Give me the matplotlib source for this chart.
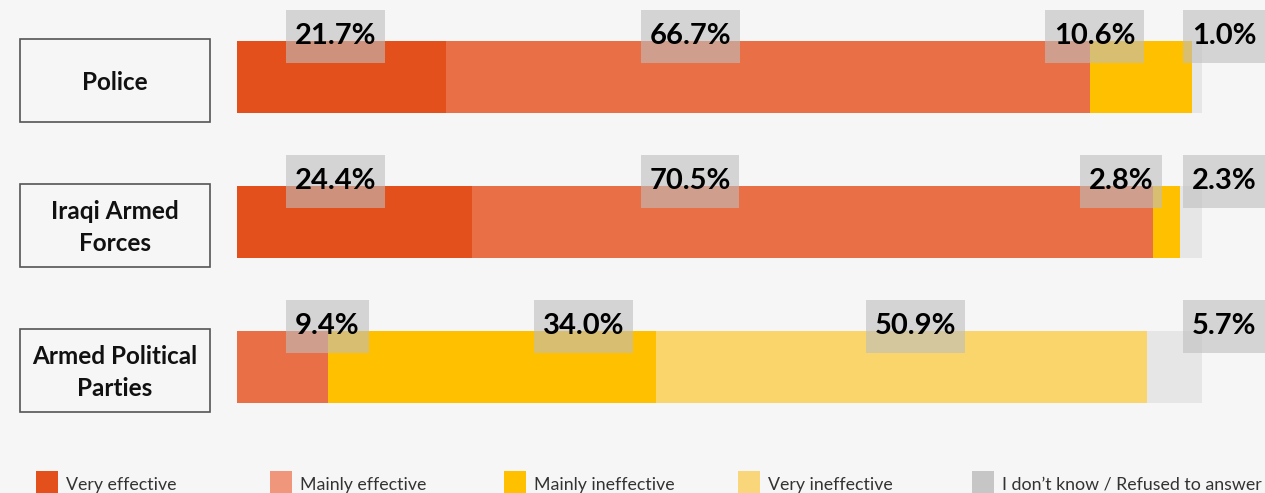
import matplotlib.pyplot as plt
from matplotlib.patches import Rectangle

plt.rcParams['font.family'] = ['Lato', 'DejaVu Sans']

# Data
groups = ['Police', 'Iraqi Armed\nForces', 'Armed Political\nParties']
answers = ['Very effective', 'Mainly effective', 'Mainly ineffective',
           'Very ineffective', "I don\u2019t know / Refused to answer"]
very_effective = [21.7, 24.4, 0.0]
mainly_effective = [66.7, 70.5, 9.4]
mainly_ineffective = [10.6, 2.8, 34.0]
very_ineffective = [0.0, 0.0, 50.9]
dont_know = [1.0, 2.3, 5.7]

# layout of the value boxes (left edge, % of bar)
label_left = [[5.1, 41.8, 83.7, 98.0],
              [5.1, 41.8, 87.3, 98.0],
              [5.1, 30.8, 65.2, 98.0]]

bar_colors = ['#E4501C', '#E97046', '#FFC000', '#F9D56C', '#E6E6E6']
legend_colors = ['#E4501C', '#F0967A', '#FFC000', '#F9D67A', '#C6C6C6']
bg = '#F6F6F6'

W, H = 1265, 493
fig = plt.figure(figsize=(W / 100, H / 100), dpi=100, facecolor=bg)
ax = fig.add_axes([237 / W, 0, 965 / W, 1])
ax.set_facecolor(bg)
ax.set_xlim(0, 100)
row_px = 145
ax.set_ylim((H - 77.5) / row_px, -77.5 / row_px)
ax.axis('off')

series = [very_effective, mainly_effective, mainly_ineffective, very_ineffective, dont_know]
px = 100 / 965  # one pixel in x data units

for i, name in enumerate(groups):
    left = 0
    vals = []
    for s, col in zip(series, bar_colors):
        v = s[i]
        if v > 0:
            ax.barh(i, v, left=left, height=72 / row_px, color=col, linewidth=0, zorder=2)
            vals.append(v)
        left += v
    # value boxes
    for v, xl in zip(vals, label_left[i]):
        ax.text(xl + 9 * px, i - 41 / row_px, f'{v:.1f}%', ha='left', va='center',
                fontsize=21, fontweight='bold', color='black', zorder=5, clip_on=False,
                bbox=dict(boxstyle='square,pad=0.3', facecolor='#BEBEBE', alpha=0.6,
                          edgecolor='none', mutation_aspect=1.55))
    # category box
    ax.add_patch(Rectangle((-217 * px, i + 3 / row_px - 41.5 / row_px), 190 * px, 83 / row_px,
                           facecolor=bg, edgecolor='#555555', linewidth=1.2, clip_on=False))
    ax.text(-122 * px, i + 5 / row_px, name, ha='center', va='center', fontsize=17.5,
            fontweight='bold', color='#111111', linespacing=1.5, clip_on=False)

# legend
for j, (lab, col) in enumerate(zip(answers, legend_colors)):
    x0 = 36 + 234 * j
    fig.patches.append(Rectangle((x0 / W, 0), 22 / W, 22 / H, transform=fig.transFigure,
                                 facecolor=col, edgecolor='none'))
    fig.text((x0 + 30) / W, 8 / H, lab, ha='left', va='center', fontsize=12.8, color='#333333')

fig.savefig('out.png', dpi=100, facecolor=bg)
